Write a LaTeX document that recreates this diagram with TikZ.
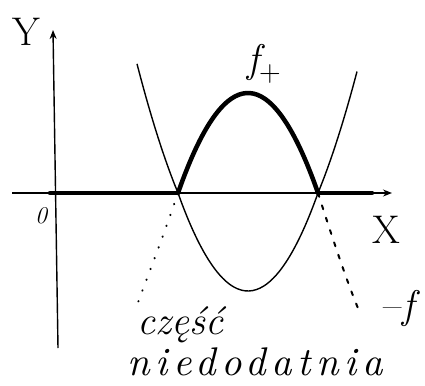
\documentclass[tikz,border=0pt]{standalone}
\usepackage{fontspec}
\usepackage{tikz}
\usetikzlibrary{arrows.meta,positioning}
\newfontfamily\spacedfont{lmroman10-italic.otf}[LetterSpace=14]

\begin{document}
\begin{tikzpicture}[
  >={Stealth[length=9pt,width=7pt]},
  x=1pt,
  y=-1pt,
  every node/.style={inner sep=1pt},
  axis/.style={->, line width=1.4pt},
  graph/.style={line width=1.4pt},
  posit/.style={line width=4.5pt, line cap=round},
  negleftpart/.style={line width=2pt, line cap=round, dash pattern=on 0.5pt off 11pt},
  negrightpart/.style={line width=2pt, line cap=round, dash pattern=on 4pt off 9pt},
  big/.style={font=\fontsize{40}{44}\selectfont},
  word/.style={font=\fontsize{40}{44}\selectfont\itshape}
]
\useasboundingbox (0,0) rectangle (425,385);

% axes
\coordinate (xstart) at (12,193);
\coordinate (xend) at (392,193);
\coordinate (ybottom) at (58,348);
\coordinate (ytop) at (53,30);
\draw[axis] (xstart) -- (xend);
\draw[axis] (ybottom) -- (ytop);

% zeros of f
\coordinate (root1) at (178,193);
\coordinate (root2) at (318,193);

% f (parabola)
\draw[graph] plot[domain=137:357, samples=60, smooth]
  (\x, {193 + 98*(1 - ((\x-248)/70)^2)*(0.87 + 0.13*(abs(\x-248)<70))});

% f_+ : thick parts
\draw[posit] (50,193) -- (root1);
\draw[posit] (root2) -- (372,193);
\draw[posit] plot[domain=178:318, samples=40, smooth]
  (\x, {193 - 100*(1 - ((\x-248)/70)^2)});

% -f outside the zeros
\coordinate (negleft) at (136,308);
\coordinate (negright) at (360,313);
\draw[negleftpart] (root1) .. controls (162,240) and (148,275) .. (negleft);
\draw[negrightpart] (root2) .. controls (333,240) and (348,285) .. (negright);

% labels
\node[big] (ylab) at (26,32) {Y};
\node[big] (xlab) at (386,230) {X};
\node[font=\fontsize{24}{26}\selectfont\itshape] (zero) at (41,216) {0};
\node[font=\fontsize{40}{44}\selectfont\itshape] (fplus) at (264,64) {f\raisebox{-9pt}{\fontsize{30}{32}\selectfont\upshape +}};
\node[font=\fontsize{40}{44}\selectfont\itshape] (minusf) at (399,308) {\upshape{--}\itshape f};
\node[word, anchor=base] (czesc) at (180,334) {część};
\node[font=\fontsize{40}{44}\spacedfont, anchor=base] (niedod) at (255,375) {niedodatnia};

\end{tikzpicture}
\end{document}
